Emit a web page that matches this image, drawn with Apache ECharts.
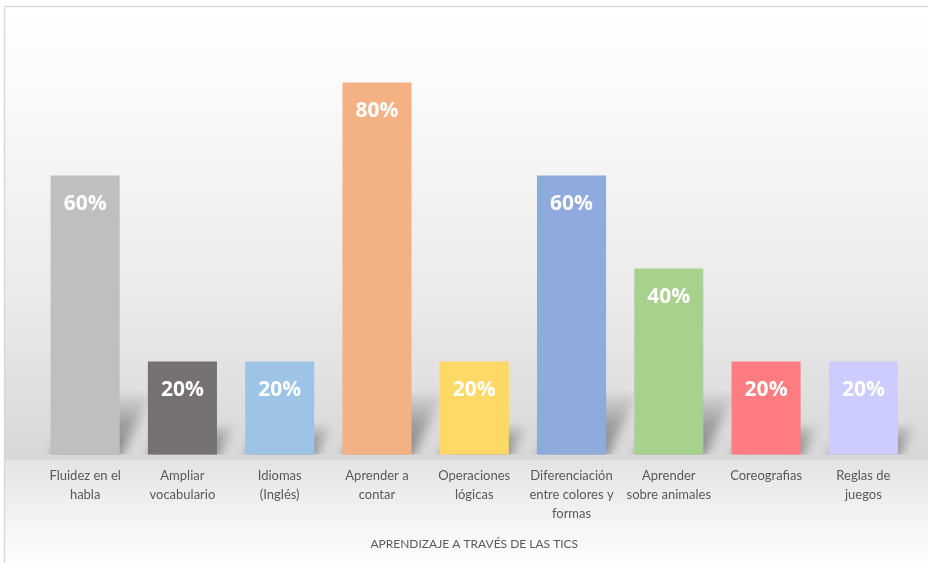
<!DOCTYPE html>
<html>
<head>
<meta charset="utf-8">
<script src="https://cdn.jsdelivr.net/npm/echarts@6/dist/echarts.min.js"></script>
<style>
html,body{margin:0;padding:0;background:#fff;}
#chart{width:928px;height:563px;}
</style>
</head>
<body>
<div id="chart"></div>
<script>
var categories = ["Fluidez en el\nhabla","Ampliar\nvocabulario","Idiomas\n(Inglés)","Aprender a\ncontar","Operaciones\nlógicas","Diferenciación\nentre colores y\nformas","Aprender\nsobre animales","Coreografias","Reglas de\njuegos"];
var values = [60,20,20,80,20,60,40,20,20];
var barColors = ["#bfbfbf","#767171","#9dc3e6","#f4b183","#ffd966","#8faadc","#a9d18e","#ff7c80","#ccccff"];
var axisTitle = "APRENDIZAJE A TRAVÉS DE LAS TICS";

var chart = echarts.init(document.getElementById('chart'), null, {renderer:'canvas'});
var BAR_RATIO = 0.71;
var SHIFT = 3000;

var option = {
  animation:false,
  graphic:[
    {type:'rect', z:-10, silent:true, shape:{x:5,y:7,width:930,height:560},
      style:{fill:new echarts.graphic.LinearGradient(0,0,0,1,[
        {offset:0,color:'#ffffff'},
        {offset:0.12,color:'#fbfbfb'},
        {offset:0.5,color:'#ebebeb'},
        {offset:0.805,color:'#d8d8d8'},
        {offset:0.812,color:'#e4e4e4'},
        {offset:0.93,color:'#f6f6f6'},
        {offset:1,color:'#ffffff'}]), stroke:null}},
    {type:'line', z:-5, silent:true, shape:{x1:4.5,y1:6.5,x2:928,y2:6.5}, style:{stroke:'#d9d9d9',lineWidth:1.5}},
    {type:'line', z:-5, silent:true, shape:{x1:4.5,y1:6.5,x2:4.5,y2:563}, style:{stroke:'#d9d9d9',lineWidth:1.5}}
  ],
  grid:{left:36.5, right:16, top:82.5, bottom:108.5, containLabel:false},
  xAxis:{
    type:'category', data:categories,
    axisLine:{show:false}, axisTick:{show:false},
    axisLabel:{interval:0, color:'#595959', fontFamily:'Lato', fontSize:13, lineHeight:19, margin:12},
    name:axisTitle, nameLocation:'middle', nameGap:84,
    nameTextStyle:{color:'#595959', fontFamily:'Lato', fontSize:12}
  },
  yAxis:{type:'value', min:0, max:80, interval:20, show:false, splitLine:{show:false}},
  series:[
    {
      type:'custom', z:1, silent:true,
      data: values.map(function(v,i){return [i,v];}),
      renderItem:function(params, api){
        var v = api.value(1);
        var base = api.coord([api.value(0),0]);
        var top = api.coord([api.value(0),v]);
        var cw = api.size([1,0])[0];
        var bw = cw*BAR_RATIO;
        var x0 = base[0]-bw/2, x1 = base[0]+bw/2, y0 = base[1];
        var H = y0-top[1];
        var h = Math.min(H*0.36, 66);
        var dx = h*0.5;
        return {
          type:'group',
          clipPath:{type:'rect', shape:{x:x0-20, y:y0-h-40, width:bw+dx+60, height:h+40}},
          children:[{
            type:'polygon',
            shape:{points:[[x0-SHIFT,y0+4],[x1-SHIFT,y0+4],[x1+dx-SHIFT,y0-h],[x0+dx-SHIFT,y0-h]]},
            style:{
              fill:new echarts.graphic.LinearGradient(0,0,0,1,[
                {offset:0,color:'rgba(0,0,0,0)'},
                {offset:0.5,color:'rgba(0,0,0,0.65)'},
                {offset:1,color:'rgba(0,0,0,1)'}]),
              shadowBlur:11, shadowOffsetX:SHIFT, shadowOffsetY:0,
              shadowColor:'rgba(0,0,0,0.42)'
            }
          }]
        };
      }
    },
    {
      type:'bar', z:3,
      barCategoryGap:'29%',
      data: values.map(function(v,i){return {value:v, itemStyle:{color:barColors[i]}};}),
      label:{show:true, position:'insideTop', distance:18, color:'#ffffff',
        fontFamily:'Open Sans', fontWeight:'bold', fontSize:21,
        formatter:function(p){return p.value+'%';}}
    }
  ]
};
chart.setOption(option);
</script>
</body>
</html>
